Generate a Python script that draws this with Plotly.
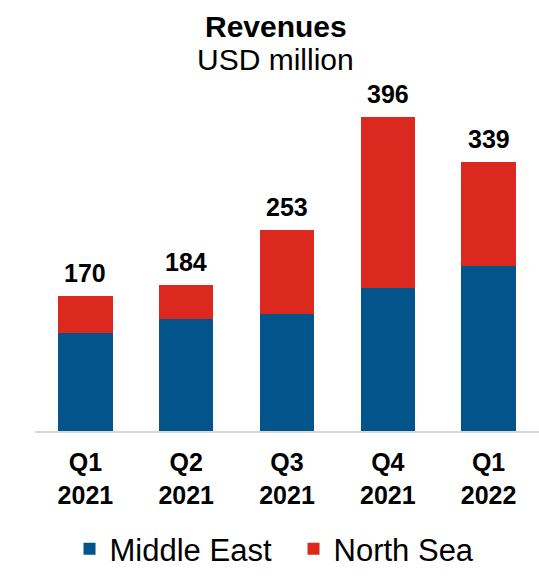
import plotly.graph_objects as go

# Quarterly revenues by region, USD million
quarters = ["Q1<br>2021", "Q2<br>2021", "Q3<br>2021", "Q4<br>2021", "Q1<br>2022"]
middle_east = [123, 141, 148, 180, 208]
north_sea = [47, 43, 105, 216, 131]
totals = [m + n for m, n in zip(middle_east, north_sea)]

BLUE = "#02548A"
RED = "#DC2920"
FONT = "Liberation Sans, Arial, sans-serif"

PLOT_TOP, PLOT_BOTTOM = 100, 431


def paper_y(px):
    """Convert a pixel row of the page into paper coordinates."""
    return (PLOT_BOTTOM - px) / (PLOT_BOTTOM - PLOT_TOP)


fig = go.Figure()
fig.add_trace(go.Bar(x=quarters, y=middle_east, name="Middle East",
                     marker=dict(color=BLUE, line=dict(width=0))))
fig.add_trace(go.Bar(x=quarters, y=north_sea, name="North Sea",
                     marker=dict(color=RED, line=dict(width=0))))

# Total labels above each stacked bar
for q, t in zip(quarters, totals):
    fig.add_annotation(x=q, y=t, text=f"<b>{t}</b>", showarrow=False,
                       yanchor="bottom", yshift=7,
                       font=dict(family=FONT, size=25, color="#000000"))

# Chart heading
fig.add_annotation(x=0.478, xref="paper", y=paper_y(27), yref="paper",
                   text="<b>Revenues</b>", showarrow=False,
                   xanchor="center", yanchor="middle",
                   font=dict(family=FONT, size=30, color="#000000"))
fig.add_annotation(x=0.478, xref="paper", y=paper_y(60), yref="paper",
                   text="USD million", showarrow=False,
                   xanchor="center", yanchor="middle",
                   font=dict(family=FONT, size=30, color="#000000"))

fig.update_layout(
    width=539, height=576,
    barmode="stack",
    bargap=0.46,
    paper_bgcolor="white",
    plot_bgcolor="white",
    margin=dict(l=35, r=0, t=PLOT_TOP, b=576 - PLOT_BOTTOM, autoexpand=False),
    font=dict(family=FONT, color="#000000"),
    showlegend=True,
    legend=dict(orientation="h", xref="container", x=0.129, xanchor="left",
                yref="container", y=-0.025, yanchor="bottom",
                entrywidth=179, entrywidthmode="pixels",
                font=dict(family=FONT, size=31, color="#000000"),
                traceorder="normal"),
    xaxis=dict(showline=True, linecolor="#D9D9D9", linewidth=2,
               ticks="", showgrid=False,
               tickfont=dict(family=FONT, size=25, color="#000000"),
               ticklabelstandoff=8),
    yaxis=dict(range=[0, 417], visible=False, showgrid=False),
)

fig.update_xaxes(tickprefix="<b>", ticksuffix="</b>")

fig.write_html("out.html")
